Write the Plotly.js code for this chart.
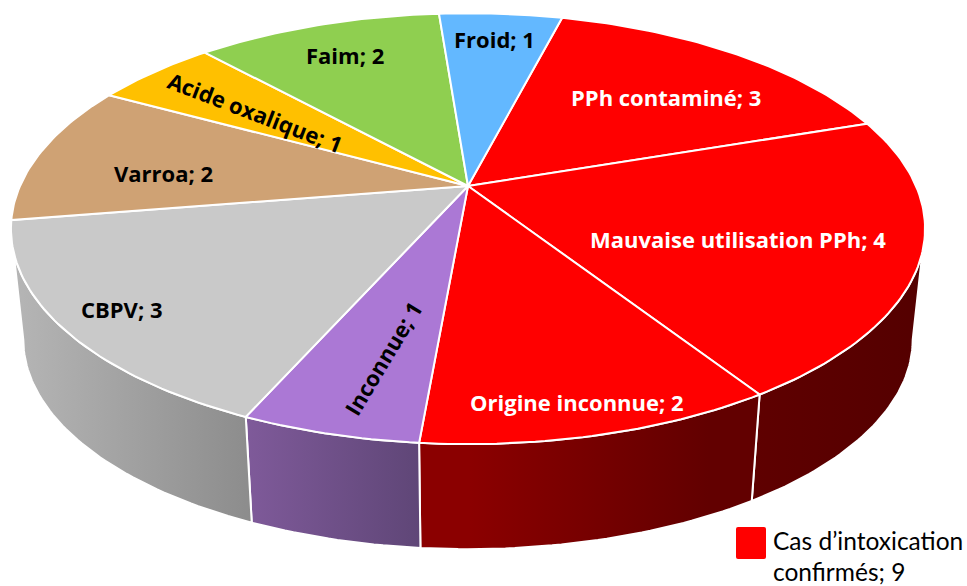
<!DOCTYPE html>
<html><head><meta charset="utf-8">
<script src="https://cdn.plot.ly/plotly-3.0.1.min.js"></script>
<style>html,body{margin:0;padding:0;background:#fff}#c{width:967px;height:586px}</style>
</head><body><div id="c"></div>
<script>
// Data, clockwise from the Froid / PPh boundary
const categories = ["PPh contaminé","Mauvaise utilisation PPh","Origine inconnue","Inconnue","CBPV","Varroa","Acide oxalique","Faim","Froid"];
const values = [3,4,2,1,3,2,1,2,1];
const colors = ["#FF0000","#FF0000","#FF0000","#AB78D5","#C9C9C9","#CFA274","#FFC000","#8FCF50","#63B8FF"];
const sideLeft = [null,"#5F0000","#8B0000","#7F5A9A","#B6B6B6",null,null,null,null];
const sideRight= [null,"#540000","#620000","#5F4677","#8C8C8C",null,null,null,null];
const sideHold = [0,0,0.15,0,0,0,0,0,0];
const textColors = ["#fff","#fff","#fff","#000","#000","#000","#000","#000","#000"];
const labelX = [666,738,577,383,121,163,255,345,494];
const labelY = [97,239,402,358,309,173,112,55,39];
const labelAngle = [0,0,0,-59,0,0,21,0,0];
const legendLabel = "Cas d’intoxication";
const legendSubLabel = "confirmés";
const confirmedIdx = [0,1,2];

// Perspective model of the tilted disc
const CX=468, CY=186, A=448, B=207, K=0.198, START=14.5, DROP=112, SHRINK=0.973;
const TAN=Math.acos(-K)*180/Math.PI;
function topPt(deg){const t=deg*Math.PI/180,u=Math.sin(t),v=-Math.cos(t),d=1-K*v;return [CX+A*u/d,CY+B*v/d];}
function botPt(deg){const p=topPt(deg);return [CX+(p[0]-CX)*SHRINK,CY+DROP+(p[1]-CY)*SHRINK];}
function arc(f,a,b){const n=Math.max(2,Math.ceil(Math.abs(b-a))),o=[];for(let i=0;i<=n;i++)o.push(f(a+(b-a)*i/n));return o;}

const total=values.reduce((s,v)=>s+v,0);
const sides=[],tops=[];
let cum=0;
values.forEach((val,i)=>{
  const a=START+cum/total*360; cum+=val; const b=START+cum/total*360;
  const p=[[CX,CY],...arc(topPt,a,b),[CX,CY]];
  tops.push({type:'scatter',mode:'lines',x:p.map(q=>q[0]),y:p.map(q=>q[1]),fill:'toself',fillcolor:colors[i],
    line:{color:'#fff',width:2},hoverinfo:'skip',showlegend:false,name:categories[i]});
  if(sideLeft[i]){
    const s=Math.max(a,TAN),e=Math.min(b,360-TAN);
    const q=[...arc(topPt,s,e),...arc(botPt,e,s)];q.push(q[0]);
    const h=sideHold[i];
    const scale=h?[[0,sideLeft[i]],[h,sideLeft[i]],[1-h,sideRight[i]],[1,sideRight[i]]]:[[0,sideLeft[i]],[1,sideRight[i]]];
    sides.push({type:'scatter',mode:'lines',x:q.map(r=>r[0]),y:q.map(r=>r[1]),fill:'toself',
      fillgradient:{type:'horizontal',colorscale:scale},
      line:{color:'#fff',width:2},hoverinfo:'skip',showlegend:false,name:categories[i]+' (côté)'});
  }
});
const annotations=categories.map((c,i)=>({x:labelX[i],y:labelY[i],xref:'x',yref:'y',showarrow:false,
  text:'<b>'+c+'; '+values[i]+'</b>',textangle:labelAngle[i],
  font:{family:'Open Sans, sans-serif',size:22,color:textColors[i]}}));
const confirmed=confirmedIdx.reduce((s,i)=>s+values[i],0);
annotations.push({x:771,y:540,xref:'x',yref:'y',xanchor:'left',showarrow:false,text:legendLabel,
  font:{family:'Lato, sans-serif',size:24.5,color:'#000'}});
annotations.push({x:771,y:571,xref:'x',yref:'y',xanchor:'left',showarrow:false,text:legendSubLabel+'; '+confirmed,
  font:{family:'Lato, sans-serif',size:24.5,color:'#000'}});

Plotly.newPlot('c',[...sides,...tops],{
  width:967,height:586,margin:{l:0,r:0,t:0,b:0},paper_bgcolor:'#fff',plot_bgcolor:'#fff',showlegend:false,
  xaxis:{range:[0,967],visible:false,fixedrange:true},
  yaxis:{range:[586,0],visible:false,fixedrange:true},
  annotations,
  shapes:[{type:'path',xref:'x',yref:'y',fillcolor:'#FF0000',line:{width:0},
    path:'M738,527 L764,527 Q766,527 766,529 L766,557 Q766,559 764,559 L738,559 Q736,559 736,557 L736,529 Q736,527 738,527 Z'}]
},{displayModeBar:false,staticPlot:true});
</script></body></html>
